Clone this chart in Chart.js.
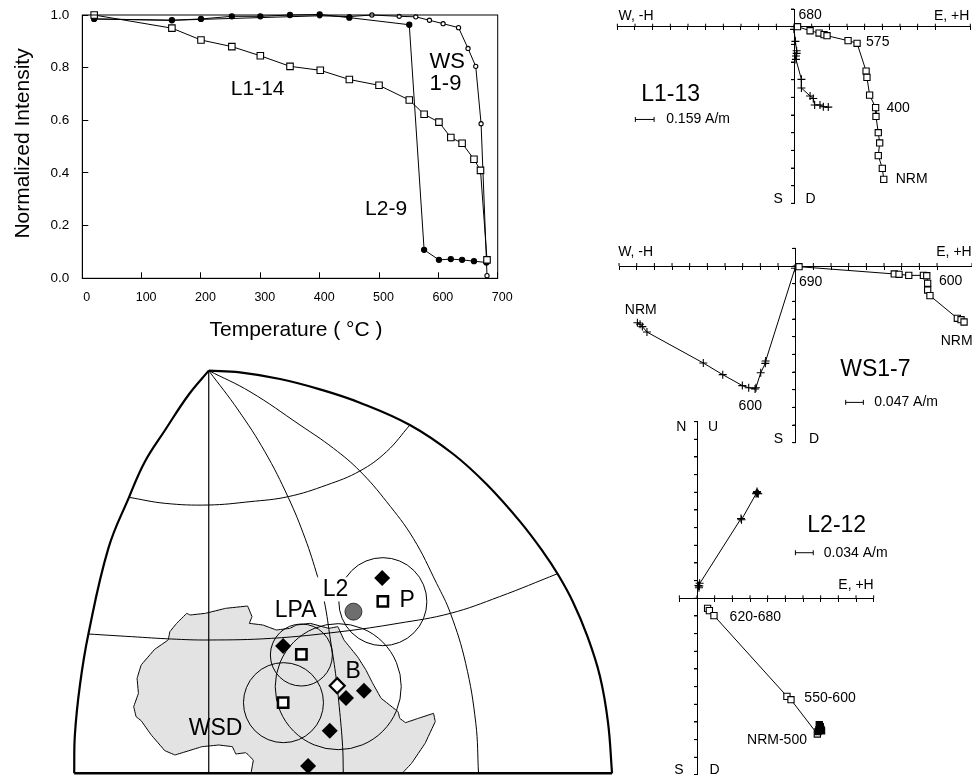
<!DOCTYPE html>
<html><head><meta charset="utf-8">
<style>html,body{margin:0;padding:0;background:#fff;width:972px;height:775px;overflow:hidden}canvas{position:absolute;display:block}</style>
<script src="https://cdn.jsdelivr.net/npm/chart.js@4/dist/chart.umd.min.js"></script>
</head><body>
<canvas id="map" style="left:60px;top:330px" width="560" height="445"></canvas>
<canvas id="thermal" style="left:0;top:0" width="520" height="345"></canvas>
<canvas id="l113" style="left:608px;top:0" width="364" height="215"></canvas>
<canvas id="ws17" style="left:608px;top:235px" width="364" height="215"></canvas>
<canvas id="l212" style="left:650px;top:415px" width="322" height="360"></canvas>
<script>
// ---------- thermal demagnetisation curves (temperature, normalized intensity)
const tempTicks = [0,100,200,300,400,500,600,700];
const l114 = [[20,1.0],[151,.95],[200,.905],[252,.88],[300,.845],[350,.805],[401,.79],[450,.755],[500,.733],[551,.677],[576,.623],[601,.593],[621,.535],[640,.513],[660,.452],[671,.41],[682,.07]];
const l29 = [[20,.985],[151,.98],[200,.985],[252,.995],[300,.995],[350,1.0],[400,1.002],[450,.99],[551,.963],[576,.108],[601,.07],[621,.073],[640,.07],[660,.065],[681,.06]];
const ws19 = [[20,.985],[151,.98],[400,.997],[450,.994],[488,1.0],[534,.995],[562,.993],[585,.98],[608,.967],[634,.952],[650,.873],[663,.805],[672,.587],[682,.01]];
// ---------- orthogonal plots, in scale-bar units
const l113Squares = [[.2,0],[.91,-.23],[1.42,-.36],[1.70,-.45],[1.87,-.51],[3.06,-.79],[3.57,-.94],[4.08,-2.51],[4.13,-2.87],[4.28,-3.87],[4.62,-4.58],[4.64,-5.08],[4.77,-6.0],[4.85,-6.58],[4.77,-7.3],[5.0,-8.02],[5.08,-8.64]];
const l113Crosses = [[0,-.15],[.08,-.83],[.15,-1.36],[.15,-1.51],[.11,-1.66],[.11,-1.85],[.42,-2.98],[.42,-3.47],[.91,-3.92],[1.09,-4.06],[1.17,-4.43],[1.47,-4.43],[1.66,-4.53],[1.94,-4.55]];
const l113Bar = [[-8.98,-5.25],[-7.92,-5.25]];
const ws17Squares = [[.19,-.04],[5.58,-.45],[5.85,-.47],[6.4,-.53],[7.23,-.53],[7.42,-.55],[7.47,-.98],[7.47,-1.36],[7.6,-1.68],[9.15,-2.96],[9.36,-3.04],[9.53,-3.17]];
const ws17Crosses = [[-.04,-.13],[-1.7,-5.38],[-1.72,-5.51],[-1.98,-6.04],[-2.25,-6.89],[-2.3,-6.96],[-2.66,-6.89],[-3.02,-6.77],[-4.13,-6.15],[-5.23,-5.49],[-8.42,-3.74],[-8.68,-3.43],[-8.81,-3.3],[-8.96,-3.21]];
const ws17Bar = [[2.83,-7.72],[3.83,-7.72]];
const l212Squares = [[.6,-.57],[.7,-.7],[.96,-.98],[5.09,-5.55],[5.32,-5.74],[6.81,-7.68]];
const l212Cluster = [[6.85,-7.55],[6.9,-7.45],[6.95,-7.36],[6.98,-7.26],[7.02,-7.42],[6.92,-7.15],[7.05,-7.5]];
const l212Crosses = [[.11,.6],[.13,.7],[.15,.85],[.08,.72],[2.49,4.51],[2.52,4.45],[3.38,5.98],[3.34,5.92],[3.42,5.94],[3.47,5.92],[3.4,6.04]];
const l212Bar = [[5.57,2.58],[6.58,2.58]];
// ---------- map, in map-plane units (y grows downward)
const frameLeft = [[440,122],[380,195],[311,300],[251,395],[204,502],[143,655],[84,912],[59,1065],[44,1215],[42,1330]];
const frameRight = [[440,122],[532,127],[651,147],[769,178],[887,218],[1035,285],[1163,372],[1262,463],[1361,575],[1430,667],[1474,735],[1517,815],[1559,916],[1597,1038],[1621,1177],[1633,1330]];
const frameBottom = [[42,1330],[1633,1330]];
const meridian0 = [[440,122],[440,1330]];
const meridian1 = [[440,122],[527,240],[606,365],[675,502],[725,625],[762,740],[782,815],[800,930],[815,1030],[826,1130],[836,1250],[838,1330]];
const meridian2 = [[440,122],[562,185],[710,285],[809,355],[887,423],[966,515],[1045,625],[1114,760],[1155,850],[1200,1000],[1230,1180],[1238,1330]];
const parallel1 = [[204,502],[311,520],[439,525],[562,515],[675,500],[789,465],[887,423],[966,365],[1035,285]];
const parallel2 = [[84,912],[212,920],[330,927],[439,930],[626,925],[830,905],[1000,880],[1155,850],[1300,800],[1472,731]];
const africa = [[565,1330],[572,1290],[550,1268],[520,1272],[510,1250],[470,1245],[420,1250],[340,1275],[310,1262],[270,1215],[240,1172],[225,1160],[218,1130],[232,1090],[228,1045],[240,1005],[280,958],[320,930],[325,905],[345,880],[375,850],[385,855],[430,850],[490,835],[555,828],[568,860],[560,880],[600,885],[640,900],[680,895],[700,885],[740,880],[795,895],[822,890],[840,930],[880,980],[905,1020],[925,1060],[950,1105],[1000,1145],[1005,1165],[1022,1178],[1060,1165],[1105,1150],[1110,1175],[1080,1240],[1040,1300],[1012,1330],[565,1330]];
const confidenceCircles = [[955,815,44],[714,975,31],[661,1118,40],[823,1070,63]];
const poleDiamonds = [[953,744],[660,948],[899,1082],[846,1104],[798,1202],[734,1308]];
const poleSquares = [[955,814],[714,973],[660,1118]];
const poleOpenDiamond = [[820,1067]];
const poleL2 = [[868,845]];
// ---------- text
const F='"Liberation Sans"';
const thermalText = [
 {t:'Normalized Intensity',x:-99.8,y:.512,s:21,r:-90},
 {t:'Temperature ( °C )',x:360,y:-.196,s:21},
 {t:'L1-14',x:295.5,y:.718,s:21},{t:'WS',x:615,y:.82,s:22},{t:'1-9',x:612,y:.74,s:22},{t:'L2-9',x:512,y:.262,s:21}];
const l113Text = [{t:'W, -H',x:-8.94,y:.62},{t:'E, +H',x:8.92,y:.62},{t:'680',x:.91,y:.66},{t:'575',x:4.74,y:-.89},{t:'400',x:5.89,y:-4.62},{t:'NRM',x:6.66,y:-8.64},{t:'L1-13',x:-6.98,y:-3.83,s:23},{t:'0.159 A/m',x:-5.43,y:-5.25},{t:'S',x:-.89,y:-9.77},{t:'D',x:.94,y:-9.77}];
const ws17Text = [{t:'W, -H',x:-9.06,y:.81},{t:'E, +H',x:8.96,y:.81},{t:'690',x:.85,y:-.89},{t:'600',x:8.77,y:-.85},{t:'NRM',x:9.11,y:-4.25},{t:'NRM',x:-8.77,y:-2.51},{t:'600',x:-2.57,y:-7.94},{t:'WS1-7',x:4.51,y:-5.85,s:23},{t:'0.047 A/m',x:6.25,y:-7.72},{t:'S',x:-.98,y:-9.79},{t:'D',x:1.04,y:-9.79}];
const l212Text = [{t:'N',x:-.89,y:9.7},{t:'U',x:.91,y:9.7},{t:'L2-12',x:7.91,y:4.09,s:23},{t:'0.034 A/m',x:8.98,y:2.58},{t:'E, +H',x:9,y:.72},{t:'620-680',x:3.3,y:-1.08},{t:'550-600',x:7.53,y:-5.66},{t:'NRM-500',x:4.53,y:-8.02},{t:'S',x:-1.02,y:-9.74},{t:'D',x:1,y:-9.74}];
const mapText = [{t:'L2',x:815,y:780,s:23,bg:[760,742,96,72]},{t:'LPA',x:697,y:843,s:23},{t:'P',x:1027,y:812,s:23},{t:'B',x:867,y:1025,s:23},{t:'WSD',x:460,y:1195,s:23}];

const xy = a => a.map(p=>({x:p[0],y:p[1]}));
Chart.defaults.animation=false;
Chart.defaults.font.family=F;
Chart.defaults.color='#000';

const textPlugin = {id:'panelText',afterDraw(c,_,o){
  const g=c.ctx,sx=c.scales.x,sy=c.scales.y;
  g.save();g.fillStyle='#000';g.textAlign='center';g.textBaseline='middle';
  (o.items||[]).forEach(i=>{
    const X=sx.getPixelForValue(i.x),Y=sy.getPixelForValue(i.y);
    if(i.bg){g.save();g.fillStyle='#fff';
      g.fillRect(sx.getPixelForValue(i.bg[0]),sy.getPixelForValue(i.bg[1]),sx.getPixelForValue(i.bg[0]+i.bg[2])-sx.getPixelForValue(i.bg[0]),sy.getPixelForValue(i.bg[1]+i.bg[3])-sy.getPixelForValue(i.bg[1]));g.restore();}
    g.save();g.translate(X,Y);if(i.r)g.rotate(i.r*Math.PI/180);
    g.font=(i.s||14)+'px '+F;g.fillText(i.t,0,0);g.restore();
  });
  g.restore();
}};
const framePlugin = {id:'plotFrame',afterDraw(c,_,o){
  if(!o.on)return;const a=c.chartArea,g=c.ctx;g.save();g.strokeStyle='#000';g.lineWidth=1;
  g.strokeRect(a.left,a.top,a.right-a.left,a.bottom-a.top);g.restore();
}};
// second half of each crossing tick mark on the orthogonal axes
const crossTicks = {id:'crossTicks',beforeDatasetsDraw(c,_,o){
  if(!o.on)return;const g=c.ctx,sx=c.scales.x,sy=c.scales.y,x0=sx.getPixelForValue(0),y0=sy.getPixelForValue(0);
  g.save();g.strokeStyle='#000';g.lineWidth=1;g.beginPath();
  sx.ticks.forEach((t,i)=>{const p=sx.getPixelForTick(i);g.moveTo(p,y0-3);g.lineTo(p,y0);});
  sy.ticks.forEach((t,i)=>{const p=sy.getPixelForTick(i);g.moveTo(x0-3,p);g.lineTo(x0,p);});
  g.stroke();g.restore();
}};
Chart.register(textPlugin,framePlugin,crossTicks);

// thermal panel
const tX=82.3,tR=497.7,tT=15,tB=278.3,tW=520,tH=345;
const noMargins=s=>{s.paddingLeft=s.paddingRight=s.paddingTop=s.paddingBottom=0;};
const mark=(label,pts,style,r,fill)=>({label,data:xy(pts),showLine:true,borderColor:'#000',borderWidth:1,tension:0,clip:false,
  pointStyle:style,pointRadius:r,pointBackgroundColor:fill,pointBorderColor:'#000',pointBorderWidth:1.1});
new Chart(document.getElementById('thermal'),{type:'scatter',
 data:{datasets:[mark('L1-14',l114,'rect',4.6,'#fff'),mark('L2-9',l29,'circle',2.6,'#000'),mark('WS 1-9',ws19,'circle',2.1,'#fff')]},
 options:{responsive:false,devicePixelRatio:1,
  layout:{autoPadding:false,padding:{left:0,top:tT,right:tW-tR,bottom:0}},
  plugins:{legend:{display:false},tooltip:{enabled:false},panelText:{items:thermalText},plotFrame:{on:true},crossTicks:{on:false}},
  scales:{
   x:{type:'linear',min:0,max:700,afterFit(s){s.height=tH-tB;noMargins(s);},
      afterBuildTicks(s){s.ticks=tempTicks.map(v=>({value:v}));},
      border:{color:'#000',width:1},grid:{drawOnChartArea:false,tickLength:-6,tickColor:'#000'},
      ticks:{padding:18,labelOffset:4.5,maxRotation:0,autoSkip:false,font:{size:12.5}}},
   y:{type:'linear',min:0,max:1,afterFit(s){s.width=tX;noMargins(s);},
      border:{color:'#000',width:1},grid:{drawOnChartArea:false,tickLength:-6,tickColor:'#000'},
      ticks:{stepSize:.2,padding:19,font:{size:13.5},callback:v=>v.toFixed(1)}}}
 }});

// orthogonal panels
const U=53/3;
function zijder(id,cv,ox,oy,xr,yr,squares,crosses,bar,text,extra){
  const el=document.getElementById(id);
  const top=cv.top,left=cv.left;
  const pad={left:ox+xr[0]*U-left,right:left+el.width-(ox+xr[1]*U),top:oy-yr[1]*U-top,bottom:top+el.height-(oy-yr[0]*U)};
  const ds=[];
  (extra||[]).forEach(d=>ds.push(d));
  ds.push(mark('Horizontal',squares,'rect',4.4,'#fff'));
  ds.push(mark('Vertical',crosses,'cross',4,'#000'));
  ds.push({label:'Scale',data:xy(bar),showLine:true,borderColor:'#000',borderWidth:1,clip:false,pointStyle:'line',pointRotation:90,pointRadius:2.5,pointBorderColor:'#000',pointBorderWidth:1});
  const axis=(pos,r)=>({type:'linear',min:r[0],max:r[1],position:pos,border:{color:'#000',width:1},
     grid:{drawOnChartArea:false,tickLength:3,tickColor:'#000'},ticks:{display:false,stepSize:1}});
  new Chart(el,{type:'scatter',data:{datasets:ds},options:{responsive:false,devicePixelRatio:1,layout:{autoPadding:false,padding:pad},
    plugins:{legend:{display:false},tooltip:{enabled:false},panelText:{items:text},plotFrame:{on:false},crossTicks:{on:true}},
    scales:{x:axis({y:0},xr),y:axis({x:0},yr)}}});
}
zijder('l113',{left:608,top:0},794,26.7,[-10,9.98],[-10,1],l113Squares,l113Crosses,l113Bar,l113Text);
zijder('ws17',{left:608,top:235},795.7,266,[-10,9.98],[-10,1],ws17Squares,ws17Crosses,ws17Bar,ws17Text);
zijder('l212',{left:650,top:415},697,598.3,[-1,10],[-10,10],l212Squares,l212Crosses,l212Bar,l212Text,
  [Object.assign(mark('NRM-500',l212Cluster,'rect',4.4,'#000'),{showLine:false})]);

// map panel
const lineDs=(label,pts,w,t)=>({label,data:xy(pts),showLine:true,borderColor:'#000',borderWidth:w,tension:t,pointRadius:0,clip:false});
const markDs=(label,pts,style,r,fill,bw)=>({label,data:xy(pts),showLine:false,clip:false,pointStyle:style,pointRadius:r,pointBackgroundColor:fill,pointBorderColor:'#000',pointBorderWidth:bw});
new Chart(document.getElementById('map'),{type:'scatter',
 data:{datasets:[
  markDs('L2',poleL2,'circle',8.5,'#6e6e6e',.7),
  markDs('Poles',poleDiamonds,'rectRot',8,'#000',0),
  markDs('Means',poleSquares,'rect',7.3,'#fff',2.5),
  markDs('B',poleOpenDiamond,'rectRot',7.5,'#fff',2.2),
  {type:'bubble',label:'Confidence',data:confidenceCircles.map(c=>({x:c[0],y:c[1],r:c[2]})),backgroundColor:'rgba(0,0,0,0)',borderColor:'#000',borderWidth:1,clip:false},
  lineDs('Frame bottom',frameBottom,2.5,0),
  lineDs('Frame left',frameLeft,2.2,.4),
  lineDs('Frame right',frameRight,2.2,.4),
  lineDs('Meridian 0',meridian0,1.2,0),
  lineDs('Meridian 1',meridian1,1,.4),
  lineDs('Meridian 2',meridian2,1,.4),
  lineDs('Parallel 1',parallel1,1,.4),
  lineDs('Parallel 2',parallel2,1,.4),
  {label:'Africa',data:xy(africa),showLine:true,fill:'shape',backgroundColor:'#e3e3e3',borderColor:'#000',borderWidth:1,tension:.001,pointRadius:0,clip:false}
 ]},
 options:{responsive:false,devicePixelRatio:1,layout:{autoPadding:false,padding:0},
  plugins:{legend:{display:false},tooltip:{enabled:false},panelText:{items:mapText},plotFrame:{on:false},crossTicks:{on:false}},
  scales:{x:{type:'linear',display:false,min:0,max:1656.5},y:{type:'linear',display:false,min:0,max:1335,reverse:true}}}});
</script>
</body></html>
